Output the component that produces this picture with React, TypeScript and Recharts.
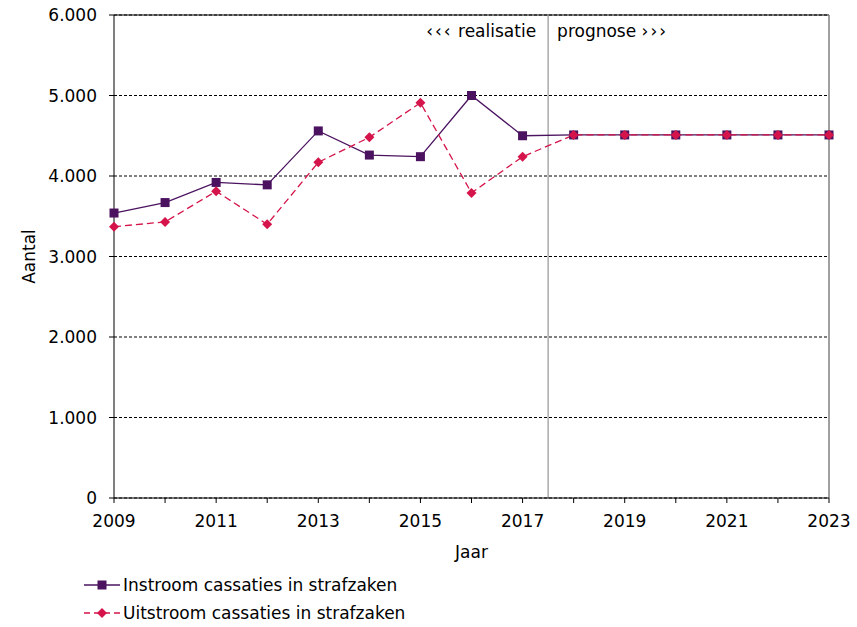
import React from 'react';
import {
  LineChart,
  Line,
  XAxis,
  YAxis,
  CartesianGrid,
  ReferenceLine,
} from 'recharts';

// Jaren en waarden
const years = [2009, 2010, 2011, 2012, 2013, 2014, 2015, 2016, 2017, 2018, 2019, 2020, 2021, 2022, 2023];
const instroom = [3540, 3670, 3920, 3890, 4560, 4260, 4240, 5000, 4500, 4510, 4510, 4510, 4510, 4510, 4510];
const uitstroom = [3370, 3430, 3810, 3400, 4170, 4480, 4910, 3790, 4240, 4510, 4510, 4510, 4510, 4510, 4510];
const yTicks = [0, 1000, 2000, 3000, 4000, 5000, 6000];

const INSTROOM_LABEL = 'Instroom cassaties in strafzaken';
const UITSTROOM_LABEL = 'Uitstroom cassaties in strafzaken';

const PURPLE = '#4b135f';
const RED = '#d4144a';
const FONT = '"DejaVu Sans", Verdana, sans-serif';

const data = years.map((year, i) => ({ year, instroom: instroom[i], uitstroom: uitstroom[i] }));

const formatThousands = (v: number) => String(v).replace(/\B(?=(\d{3})+(?!\d))/g, '.');

const SquareDot = (props: any) => {
  const { cx, cy } = props;
  if (cx == null || cy == null) return null;
  return <rect x={cx - 4.5} y={cy - 4.5} width={9} height={9} fill={PURPLE} />;
};

const DiamondDot = (props: any) => {
  const { cx, cy } = props;
  if (cx == null || cy == null) return null;
  return <polygon points={`${cx},${cy - 5} ${cx + 5},${cy} ${cx},${cy + 5} ${cx - 5},${cy}`} fill={RED} />;
};

const PhaseLabels = (props: any) => {
  const { viewBox } = props;
  const x = viewBox.x;
  const y = viewBox.y + 22;
  return (
    <g fontFamily={FONT} fontSize={17} fill="#000">
      <text x={x - 12} y={y} textAnchor="end">
        <tspan letterSpacing={2}>‹‹‹</tspan> realisatie
      </text>
      <text x={x + 9} y={y} textAnchor="start">
        prognose <tspan letterSpacing={2}>›››</tspan>
      </text>
    </g>
  );
};

const LegendRow = ({ color, dashed, marker, label }: any) => (
  <div style={{ display: 'flex', alignItems: 'center', height: 28 }}>
    <svg width={38} height={14} style={{ marginRight: 1 }}>
      <line x1={0} y1={7} x2={36} y2={7} stroke={color} strokeWidth={1.3} strokeDasharray={dashed ? '6 4' : undefined} />
      {marker === 'square' ? (
        <rect x={13.5} y={2.5} width={9} height={9} fill={color} />
      ) : (
        <polygon points="18,2 23,7 18,12 13,7" fill={color} />
      )}
    </svg>
    <span>{label}</span>
  </div>
);

export default function App() {
  return (
    <div style={{ position: 'absolute', left: 0, top: 0, width: 857, height: 627, background: '#fff' }}>
      <LineChart width={857} height={627} data={data} margin={{ top: 15, right: 28, left: 54, bottom: 69 }}>
        <CartesianGrid vertical={false} horizontal stroke="#000" strokeDasharray="3 2" strokeWidth={1} />
        <ReferenceLine y={6000} stroke="#000" strokeWidth={1.2} />
        <ReferenceLine x={2023} stroke="#808080" strokeWidth={1.5} />
        <ReferenceLine x={2017.5} stroke="#808080" strokeWidth={1} label={<PhaseLabels />} />
        <XAxis
          type="number"
          dataKey="year"
          domain={[2009, 2023]}
          ticks={years}
          interval={0}
          tickFormatter={(v: number) => (v % 2 === 1 ? String(v) : '')}
          stroke="#000"
          tickSize={5}
          tickMargin={12}
          height={60}
          tick={{ fill: '#000', fontSize: 17, fontFamily: FONT }}
          label={(p: any) => (
            <text x={p.viewBox.x + p.viewBox.width / 2} y={558} textAnchor="middle" fontFamily={FONT} fontSize={17} fill="#000">
              Jaar
            </text>
          )}
        />
        <YAxis
          type="number"
          domain={[0, 6000]}
          ticks={yTicks}
          interval={0}
          tickFormatter={formatThousands}
          stroke="#000"
          tickSize={5}
          tickMargin={12}
          width={60}
          tick={{ fill: '#000', fontSize: 17, fontFamily: FONT }}
          label={(p: any) => {
            const cy = p.viewBox.y + p.viewBox.height / 2;
            return (
              <text x={35} y={cy} textAnchor="middle" transform={`rotate(-90, 35, ${cy})`} fontFamily={FONT} fontSize={17} fill="#000">
                Aantal
              </text>
            );
          }}
        />
        <Line
          dataKey="instroom"
          stroke={PURPLE}
          strokeWidth={1.3}
          dot={<SquareDot />}
          activeDot={false}
          isAnimationActive={false}
        />
        <Line
          dataKey="uitstroom"
          stroke={RED}
          strokeWidth={1.3}
          strokeDasharray="7 4"
          dot={<DiamondDot />}
          activeDot={false}
          isAnimationActive={false}
        />
      </LineChart>
      <div style={{ position: 'absolute', left: 84, top: 571, fontFamily: FONT, fontSize: 17, color: '#000' }}>
        <LegendRow color={PURPLE} marker="square" label={INSTROOM_LABEL} />
        <LegendRow color={RED} dashed marker="diamond" label={UITSTROOM_LABEL} />
      </div>
    </div>
  );
}
